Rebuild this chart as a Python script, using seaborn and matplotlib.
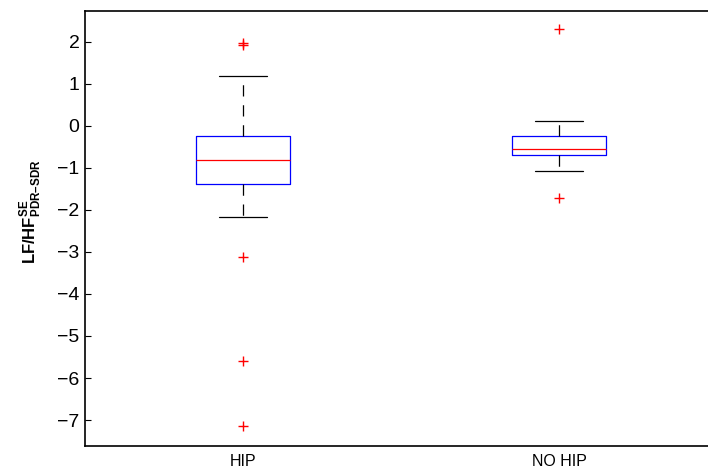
import numpy as np
import pandas as pd
import matplotlib
matplotlib.use("Agg")
import matplotlib.pyplot as plt
import seaborn as sns

# values (chosen so quartiles/whiskers/outliers land where shown)
groups = ["HIP", "NO HIP"]
hip_values = [-7.14, -5.59, -3.13, -2.17, -1.38, -1.15, -1.0, -0.9, -0.81,
              -0.65, -0.5, -0.35, -0.24, 0.4, 1.18, 1.92, 1.96]
nohip_values = [-1.72, -1.07, -0.69, -0.62, -0.55, -0.4, -0.24, 0.11, 2.30]
y_ticks = [2, 1, 0, -1, -2, -3, -4, -5, -6, -7]

df = pd.DataFrame({
    "group": [groups[0]] * len(hip_values) + [groups[1]] * len(nohip_values),
    "value": hip_values + nohip_values,
})

sns.set_style("white")
plt.rcParams["font.family"] = ["Liberation Sans", "DejaVu Sans"]
plt.rcParams["mathtext.fontset"] = "custom"
plt.rcParams["mathtext.rm"] = "Liberation Sans"
plt.rcParams["mathtext.bf"] = "Liberation Sans:bold"
for key in ["text.color", "axes.labelcolor", "xtick.color", "ytick.color"]:
    plt.rcParams[key] = "black"

fig = plt.figure(figsize=(7.08, 4.71), dpi=100)
ax = fig.add_axes([85 / 708, 1 - 445.7 / 471, (717 - 85) / 708, (445.7 - 11) / 471])

lw = 0.9
sns.boxplot(
    data=df, x="group", y="value", ax=ax, fill=False, width=0.3, whis=1.5,
    boxprops=dict(color="blue", linewidth=lw),
    medianprops=dict(color="red", linewidth=lw),
    whiskerprops=dict(color="black", linewidth=lw, linestyle=(0, (9, 7))),
    capprops=dict(color="black", linewidth=lw),
    flierprops=dict(marker="+", color="red", markeredgecolor="red", markerfacecolor="red",
                    markersize=7.5, markeredgewidth=1.0, linestyle="none"),
)
# make sure the outlier crosses stay pure red
for line in ax.lines:
    if line.get_marker() == "+":
        line.set_markeredgecolor("red")

ax.set_xlim(-0.5, 1.5)
ax.set_ylim(-7.61, 2.73)
ax.set_yticks(y_ticks)
ax.set_yticklabels([str(t).replace("-", "\u2212") for t in y_ticks], fontsize=14)
ax.set_xticks([0, 1])
ax.set_xticklabels(groups, fontsize=11.5)
ax.tick_params(axis="y", direction="in", length=4, width=0.8, left=True, pad=4)
ax.tick_params(axis="x", length=0, pad=6)
ax.set_xlabel("")
ax.set_ylabel("$\\mathbf{LF/HF}^{\\mathbf{SE}}_{\\mathbf{PDR\u2013SDR}}$", fontsize=12)
ax.yaxis.set_label_coords(-0.066, 0.538)

for name, s in ax.spines.items():
    s.set_visible(name != "right")
    s.set_color("black")
    s.set_linewidth(1.2)

fig.savefig("out.png", dpi=100)
